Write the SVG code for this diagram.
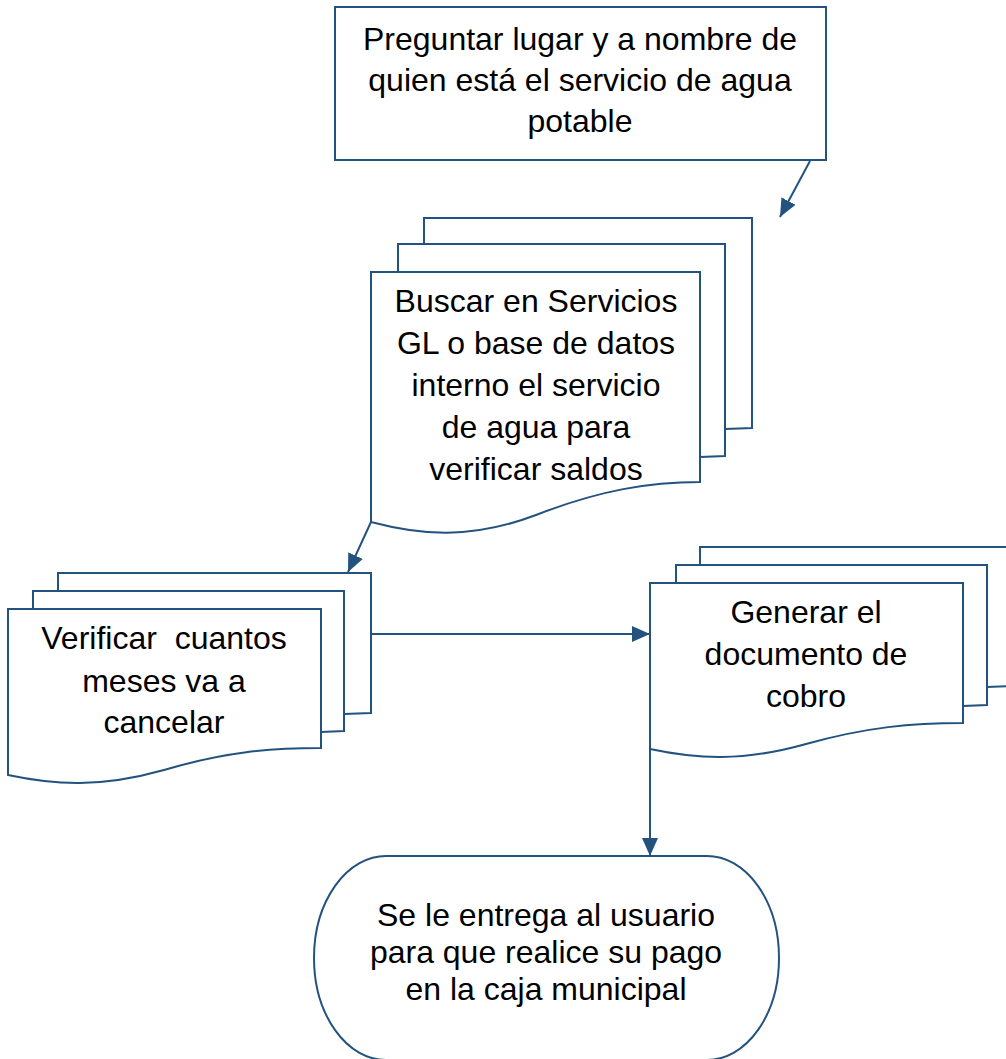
<svg xmlns="http://www.w3.org/2000/svg" width="1006" height="1059" viewBox="0 0 1006 1059">
<style>
.s{fill:#fff;stroke:#24527f;stroke-width:2;stroke-linejoin:miter}
.p{fill:none;stroke:#24527f;stroke-width:2}
.t{font-family:"Liberation Sans",Arial,sans-serif;font-size:32px;fill:#000;text-anchor:middle;white-space:pre}
.c{fill:none;stroke:#24527f;stroke-width:2}
</style>
<defs>
<marker id="ah" markerUnits="userSpaceOnUse" markerWidth="20" markerHeight="16" refX="18" refY="8" orient="auto">
<path d="M0,0 L18,8 L0,16 Z" fill="#24527f"/>
</marker>
</defs>
<rect width="1006" height="1059" fill="#fff"/>

<g id="n1">
<rect class="s" x="335" y="7" width="491" height="153"/>
<text class="t" x="580" y="50">Preguntar lugar y a nombre de</text>
<text class="t" x="580" y="91">quien está el servicio de agua</text>
<text class="t" x="580" y="132">potable</text>
</g>

<g id="n2">
<polyline class="p" points="424,244 424,218 752,218 752,428 725,429"/>
<polyline class="p" points="398,272 398,244 725,244 725,456 700,457"/>
<path class="s" d="M371,272 L700,272 L700,482 C650,482 600,490 536,515 C470,540 420,535 371,522 Z"/>
<text class="t" x="536" y="312">Buscar en Servicios</text>
<text class="t" x="536" y="354">GL o base de datos</text>
<text class="t" x="536" y="396">interno el servicio</text>
<text class="t" x="536" y="438">de agua para</text>
<text class="t" x="536" y="480">verificar saldos</text>
</g>

<g id="n3">
<polyline class="p" points="58,591 58,573 371,573 371,713 344,714"/>
<polyline class="p" points="33,609 33,591 344,591 344,731 321,732"/>
<path class="s" d="M8,609 L321,609 L321,748 C270,748 225,752 164,770 C100,788 55,785 8,775 Z"/>
<text class="t" x="164" y="649" xml:space="preserve">Verificar  cuantos</text>
<text class="t" x="164" y="692">meses va a</text>
<text class="t" x="164" y="733">cancelar</text>
</g>

<g id="n4">
<polyline class="p" points="700,565 700,547 1010,547"/>
<polyline class="p" points="987,687 1010,686"/>
<polyline class="p" points="676,583 676,565 987,565 987,705 963,706"/>
<path class="s" d="M650,583 L963,583 L963,723 C912,723 867,727 806,744 C742,762 697,759 650,749 Z"/>
<text class="t" x="806" y="623">Generar el</text>
<text class="t" x="806" y="665">documento de</text>
<text class="t" x="806" y="707">cobro</text>
</g>

<g id="n5">
<rect class="s" x="314" y="856" width="465" height="204" rx="72" ry="102"/>
<text class="t" x="546" y="926">Se le entrega al usuario</text>
<text class="t" x="546" y="963">para que realice su pago</text>
<text class="t" x="546" y="1000">en la caja municipal</text>
</g>

<g id="connectors">
<line class="c" x1="810" y1="161" x2="780" y2="217" marker-end="url(#ah)"/>
<line class="c" x1="371" y1="522" x2="348" y2="572" marker-end="url(#ah)"/>
<line class="c" x1="371" y1="634" x2="650" y2="634" marker-end="url(#ah)"/>
<line class="c" x1="650" y1="749" x2="650" y2="856" marker-end="url(#ah)"/>
</g>
</svg>
